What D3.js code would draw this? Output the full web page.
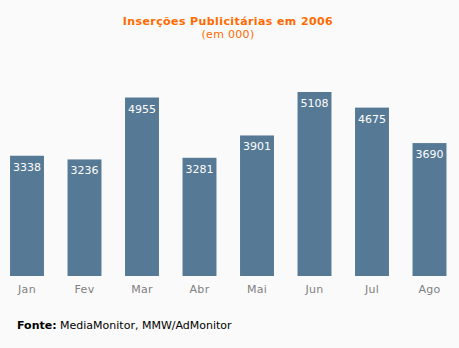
<!DOCTYPE html>
<html><head><meta charset="utf-8">
<script src="https://cdn.jsdelivr.net/npm/d3@7"></script>
<style>
html,body{margin:0;padding:0;background:#fafafa;}
svg{display:block;font-family:"DejaVu Sans",Verdana,sans-serif;}
</style></head>
<body>
<script>
const categories = ["Jan","Fev","Mar","Abr","Mai","Jun","Jul","Ago"];
const values = [3338,3236,4955,3281,3901,5108,4675,3690];
const title = "Inserções Publicitárias em 2006";
const subtitle = "(em 000)";
const sourceBold = "Fonte:";
const sourceText = " MediaMonitor, MMW/AdMonitor";

const W = 459, H = 348;
const svg = d3.select("body").append("svg").attr("width", W).attr("height", H);
svg.append("rect").attr("width", W).attr("height", H).attr("fill", "#fafafa");

const x = d3.scaleBand().domain(categories).range([-1.75, 458.25]).paddingInner(0.41).paddingOuter(0.205);
const y = d3.scaleLinear().domain([0, 5108]).range([276, 92]);

svg.append("text").attr("x", 228).attr("y", 25).attr("text-anchor", "middle")
  .attr("font-size", 11).attr("font-weight", "bold").attr("letter-spacing", 0.4)
  .attr("fill", "#ff6a00").text(title);
svg.append("text").attr("x", 228).attr("y", 38).attr("text-anchor", "middle")
  .attr("font-size", 11).attr("letter-spacing", 0.3).attr("fill", "#ff6a00").text(subtitle);

const g = svg.append("g");
g.selectAll("rect.bar").data(values).join("rect").attr("class", "bar")
  .attr("x", (d, i) => x(categories[i])).attr("width", x.bandwidth())
  .attr("y", d => y(d)).attr("height", d => y(0) - y(d)).attr("fill", "#567995");
g.selectAll("text.val").data(values).join("text").attr("class", "val")
  .attr("x", (d, i) => x(categories[i]) + x.bandwidth() / 2).attr("y", d => y(d) + 15)
  .attr("text-anchor", "middle").attr("font-size", 11).attr("fill", "#ffffff").text(d => d);

const axis = d3.axisBottom(x).tickSize(0).tickPadding(0);
const ax = svg.append("g").attr("transform", "translate(0,285)").call(axis);
ax.select(".domain").remove();
ax.selectAll("text").attr("font-size", 11).attr("fill", "#808080").attr("letter-spacing", 0.3)
  .attr("font-family", "DejaVu Sans, Verdana, sans-serif").attr("dy", "0.71em");

const src = svg.append("text").attr("x", 17).attr("y", 329).attr("font-size", 11).attr("fill", "#000");
src.append("tspan").attr("font-weight", "bold").text(sourceBold);
src.append("tspan").text(sourceText);
</script>
</body></html>
